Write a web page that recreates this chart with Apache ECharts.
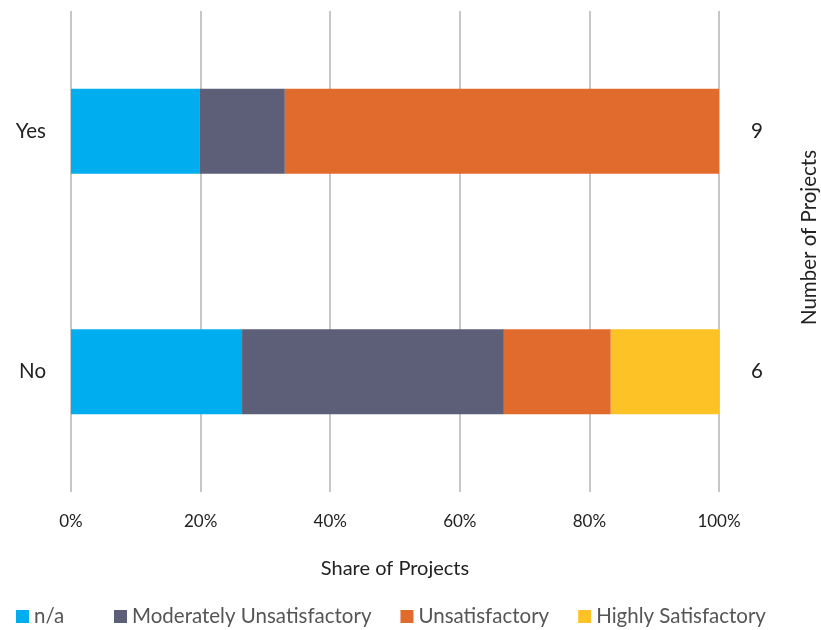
<!DOCTYPE html>
<html>
<head>
<meta charset="utf-8">
<style>
  html, body { margin: 0; padding: 0; background: #fff; }
  #chart { width: 821px; height: 630px; }
</style>
<script src="https://cdn.jsdelivr.net/npm/echarts@6/dist/echarts.min.js"></script>
</head>
<body>
<div id="chart"></div>
<script>
// Share of projects by rating, split by group (percent of group total)
const categories = ['Yes', 'No'];
const projectCounts = ['9', '6'];
const xTicks = [0, 20, 40, 60, 80, 100];

const naValues = [19.9, 26.4];
const modUnsatValues = [13.1, 40.4];
const unsatValues = [67.0, 16.5];
const highSatValues = [0, 16.7];

const seriesDefs = [
  { name: 'n/a', data: naValues, color: '#00AEEF' },
  { name: 'Moderately Unsatisfactory', data: modUnsatValues, color: '#5C5F77' },
  { name: 'Unsatisfactory', data: unsatValues, color: '#E16B2C' },
  { name: 'Highly Satisfactory', data: highSatValues, color: '#FDC326' }
];

const fontFamily = 'Lato, "Open Sans", sans-serif';
const chart = echarts.init(document.getElementById('chart'));

// shared look for the two legend blocks along the bottom row
const legendBase = {
  top: 606,
  padding: 0,
  itemWidth: 13,
  itemHeight: 13,
  itemGap: 29,
  icon: 'rect',
  textStyle: { fontSize: 20.5, color: '#555', fontFamily: fontFamily }
};

chart.setOption({
  animation: false,
  textStyle: { fontFamily: fontFamily },
  grid: {
    left: 71, right: 102, top: 11, bottom: 138,
    containLabel: false,
    outerBoundsMode: 'none'
  },
  legend: [
    Object.assign({}, legendBase, { left: 16, data: [seriesDefs[0].name] }),
    Object.assign({}, legendBase, { left: 114, data: seriesDefs.slice(1).map(s => s.name) })
  ],
  xAxis: {
    type: 'value',
    min: xTicks[0],
    max: xTicks[xTicks.length - 1],
    interval: xTicks[1] - xTicks[0],
    name: 'Share of Projects',
    nameLocation: 'middle',
    nameGap: 67,
    nameTextStyle: { fontSize: 20, color: '#222', fontFamily: fontFamily },
    axisLine: { show: false },
    axisTick: { show: false },
    axisLabel: {
      formatter: '{value}%',
      fontSize: 17,
      color: '#222',
      margin: 21
    },
    splitLine: { show: true, lineStyle: { color: '#b5b5b5', width: 1.5 } }
  },
  yAxis: [
    {
      type: 'category',
      data: categories,
      inverse: true,
      axisLine: { show: false },
      axisTick: { show: false },
      axisLabel: { fontSize: 20.5, color: '#222', margin: 25 }
    },
    {
      type: 'category',
      data: projectCounts,
      inverse: true,
      position: 'right',
      axisLine: { show: false },
      axisTick: { show: false },
      axisLabel: { fontSize: 20.5, color: '#222', margin: 32 },
      name: 'Number of Projects',
      nameLocation: 'middle',
      nameRotate: 90,
      nameGap: 80,
      nameTextStyle: { fontSize: 20.5, color: '#222', fontFamily: fontFamily, padding: [0, 0, 0, 28] }
    }
  ],
  series: seriesDefs.map(s => ({
    name: s.name,
    type: 'bar',
    stack: 'total',
    barWidth: 85,
    yAxisIndex: 0,
    data: s.data,
    itemStyle: { color: s.color },
    emphasis: { disabled: true }
  }))
});
</script>
</body>
</html>
